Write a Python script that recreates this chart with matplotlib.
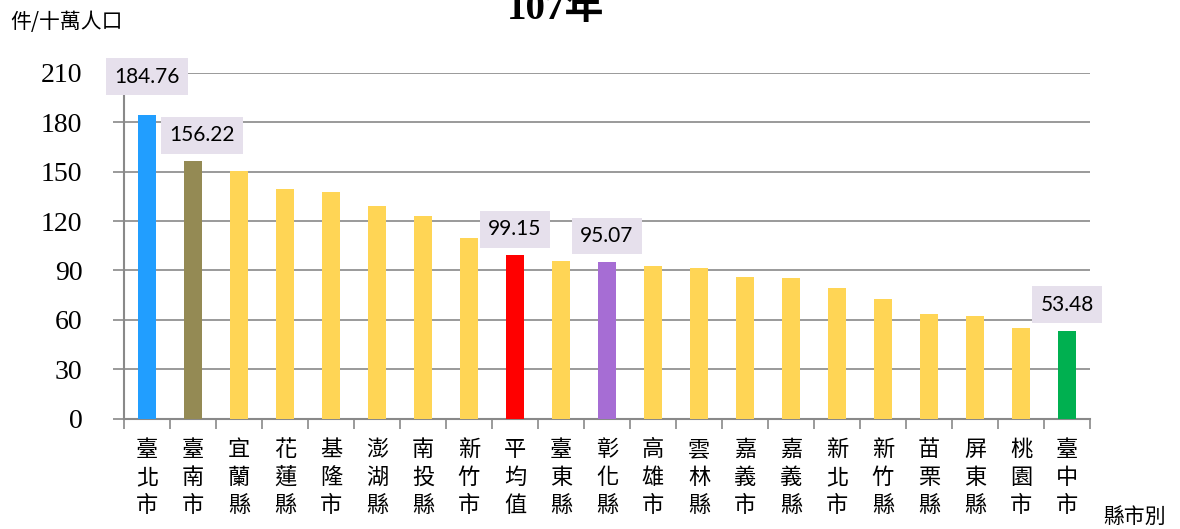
import matplotlib.pyplot as plt
import numpy as np

plt.rcParams["font.family"] = ["Noto Sans CJK TC", "DejaVu Sans"]

# --- dati ---
counties = ["臺北市", "臺南市", "宜蘭縣", "花蓮縣", "基隆市", "澎湖縣", "南投縣",
            "新竹市", "平均值", "臺東縣", "彰化縣", "高雄市", "雲林縣", "嘉義市",
            "嘉義縣", "新北市", "新竹縣", "苗栗縣", "屏東縣", "桃園市", "臺中市"]
rates = [184.76, 156.22, 150.6, 139.7, 137.9, 129.3, 123.2,
         110.0, 99.15, 95.9, 95.07, 92.8, 91.6, 86.1,
         85.5, 79.2, 72.5, 63.6, 62.4, 55.1, 53.48]
bar_colors = ["#219EFF", "#948A54"] + ["#FFD555"] * 6 + ["#FF0000", "#FFD555", "#A66DD4"] \
    + ["#FFD555"] * 9 + ["#00B050"]
labelled = [0, 1, 8, 10, 20]
yticks = [0, 30, 60, 90, 120, 150, 180, 210]

grid_c = "#898989"

fig = plt.figure(figsize=(11.8, 5.29), dpi=100)
ax = fig.add_axes([124 / 1180, 1 - 418.5 / 529, 966 / 1180, 345.5 / 529])

x = np.arange(len(counties))
ax.bar(x, rates, width=0.41, color=bar_colors, zorder=3)

ax.set_ylim(0, 210)
ax.set_xlim(-0.5, len(counties) - 0.5)
ax.set_yticks(yticks)
ax.set_yticklabels([str(v) for v in yticks], family="Liberation Serif", fontsize=20)
ax.yaxis.grid(True, color=grid_c, linewidth=1.2, zorder=0)
ax.tick_params(axis="y", length=8, width=1.2, color=grid_c, pad=22)

# tacche ai bordi delle categorie, etichette al centro
ax.set_xticks(np.arange(-0.5, len(counties), 1.0))
ax.set_xticklabels([])
ax.set_xticks(x, minor=True)
ax.set_xticklabels(["\n".join(c) for c in counties], minor=True, fontsize=16,
                   linespacing=1.28, va="top")
ax.tick_params(axis="x", which="major", length=7, width=1.2, color=grid_c)
ax.tick_params(axis="x", which="minor", length=0, pad=14)

for s in ["top", "right"]:
    ax.spines[s].set_visible(False)
for s in ["left", "bottom"]:
    ax.spines[s].set_color(grid_c)
    ax.spines[s].set_linewidth(1.5)

# etichette dei valori
offsets = {0: (0, 38), 1: (9, 26), 8: (0, 26), 10: (0, 26), 20: (0, 26)}
for i in labelled:
    dx, dy = offsets[i]
    ax.annotate(f"{rates[i]:.2f}", (x[i], rates[i]), xytext=(dx, dy),
                textcoords="offset pixels", ha="center", va="center",
                fontsize=15, family="Lato", zorder=5, annotation_clip=False,
                bbox=dict(boxstyle="square,pad=0.4", fc="#E6E0EC", ec="none"))

fig.text(556 / 1180, 1 - 19 / 529, "107年", ha="center", va="baseline",
         fontsize=28, fontweight="bold", family=["Liberation Serif", "Noto Sans CJK TC"])
fig.text(10 / 1180, 1 - 22 / 529, "件/十萬人口", ha="left", va="center", fontsize=15)
fig.text(1103 / 1180, 1 - 517 / 529, "縣市別", ha="left", va="center", fontsize=15)

plt.savefig("out.png", dpi=100)
